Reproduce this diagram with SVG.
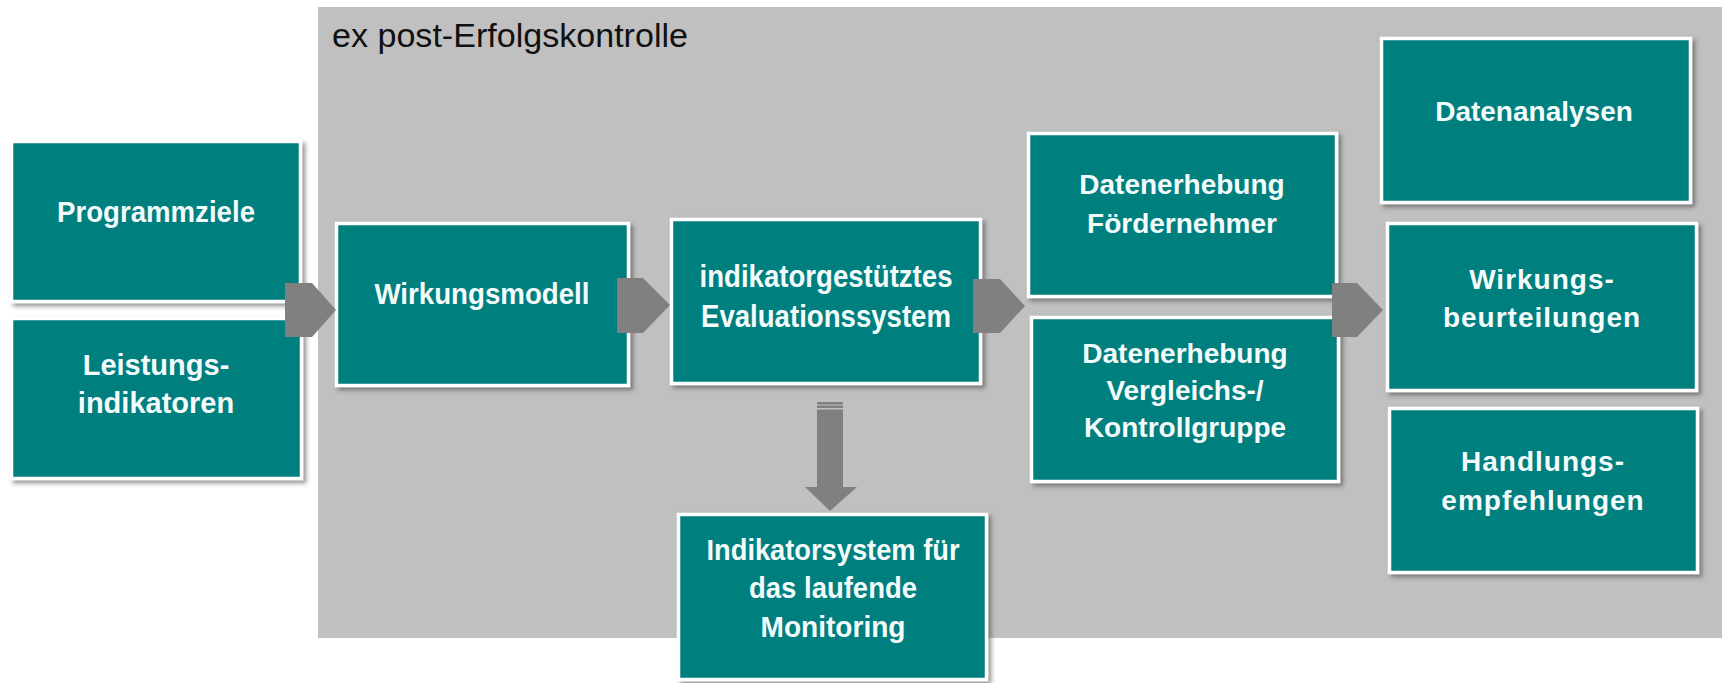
<svg xmlns="http://www.w3.org/2000/svg" width="1727" height="683" viewBox="0 0 1727 683">
<defs>
<style>
.box{fill:#017f7f;stroke:#ffffff;stroke-width:3.5;filter:url(#sh)}
.t{font-family:"Liberation Sans",Arial,sans-serif;font-weight:bold;font-size:28px;fill:#f4fbfb;text-anchor:middle}
.title{font-family:"Liberation Sans",Arial,sans-serif;font-size:34px;fill:#111111}
.arr{fill:#808080}
</style>
<filter id="sh" x="-5%" y="-5%" width="115%" height="120%">
<feDropShadow dx="3" dy="3" stdDeviation="2" flood-color="#404040" flood-opacity="0.55"/>
</filter>
</defs>
<rect width="1727" height="683" fill="#ffffff"/>
<g id="frame">
<rect x="318" y="7" width="1404" height="631" fill="#c0c0c0"/>
<text class="title" x="332" y="47" textLength="356" lengthAdjust="spacingAndGlyphs">ex post-Erfolgskontrolle</text>
</g>
<g id="programmziele">
<rect class="box" x="11.5" y="141.5" width="289" height="160"/>
<text class="t" x="156" y="222" style="font-size:29px" textLength="198" lengthAdjust="spacingAndGlyphs">Programmziele</text>
</g>
<g id="leistungsindikatoren">
<rect class="box" x="11.5" y="318.5" width="290" height="160"/>
<text class="t" x="156" y="375" style="font-size:29px">Leistungs-</text>
<text class="t" x="156" y="413" style="font-size:29px">indikatoren</text>
</g>
<g id="wirkungsmodell">
<rect class="box" x="336.5" y="223.5" width="292" height="162"/>
<text class="t" x="482" y="304" style="font-size:30px" textLength="215" lengthAdjust="spacingAndGlyphs">Wirkungsmodell</text>
</g>
<g id="evaluationssystem">
<rect class="box" x="671.5" y="219.5" width="309" height="164"/>
<text class="t" x="826" y="287" style="font-size:32px" textLength="253" lengthAdjust="spacingAndGlyphs">indikatorgestütztes</text>
<text class="t" x="826" y="327" style="font-size:32px" textLength="250" lengthAdjust="spacingAndGlyphs">Evaluationssystem</text>
</g>
<g id="monitoring">
<rect class="box" x="678.5" y="514.5" width="308" height="165"/>
<text class="t" x="833" y="560" style="font-size:30px" textLength="253" lengthAdjust="spacingAndGlyphs">Indikatorsystem für</text>
<text class="t" x="833" y="598" style="font-size:30px" textLength="168" lengthAdjust="spacingAndGlyphs">das laufende</text>
<text class="t" x="833" y="637" style="font-size:30px" textLength="145" lengthAdjust="spacingAndGlyphs">Monitoring</text>
</g>
<g id="datenerhebung-foerdernehmer">
<rect class="box" x="1028.5" y="133.5" width="308" height="163"/>
<text class="t" x="1182" y="194">Datenerhebung</text>
<text class="t" x="1182" y="233">Fördernehmer</text>
</g>
<g id="datenerhebung-kontrollgruppe">
<rect class="box" x="1031.5" y="317.5" width="307" height="164"/>
<text class="t" x="1185" y="363">Datenerhebung</text>
<text class="t" x="1185" y="400">Vergleichs-/</text>
<text class="t" x="1185" y="437">Kontrollgruppe</text>
</g>
<g id="datenanalysen">
<rect class="box" x="1381.5" y="38.5" width="309" height="164"/>
<text class="t" x="1534" y="121">Datenanalysen</text>
</g>
<g id="wirkungsbeurteilungen">
<rect class="box" x="1387.5" y="223.5" width="309" height="167"/>
<text class="t" x="1542" y="289" style="letter-spacing:1px">Wirkungs-</text>
<text class="t" x="1542" y="327" style="letter-spacing:1px">beurteilungen</text>
</g>
<g id="handlungsempfehlungen">
<rect class="box" x="1389.5" y="408.5" width="308" height="164"/>
<text class="t" x="1543" y="471" style="letter-spacing:1px">Handlungs-</text>
<text class="t" x="1543" y="510" style="letter-spacing:1px">empfehlungen</text>
</g>
<g id="connectors">
<polygon class="arr" points="285,283 312,283 336,310 312,337 285,337"/>
<polygon class="arr" points="617,278 643,278 670,305 643,333 617,333"/>
<polygon class="arr" points="973,279 1000,279 1025,306 1000,333 973,333"/>
<polygon class="arr" points="1332,283 1357,283 1383,310 1357,337 1332,337"/>
<rect class="arr" x="817" y="402" width="26" height="2.5"/>
<rect class="arr" x="817" y="405.5" width="26" height="2.5"/>
<polygon class="arr" points="817,409.5 843,409.5 843,487 857,487 830,511 805,487 817,487"/>
</g>
</svg>
